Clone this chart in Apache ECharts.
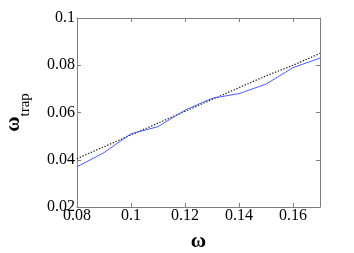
<!DOCTYPE html>
<html><head><meta charset="utf-8">
<script src="https://cdn.jsdelivr.net/npm/echarts@6/dist/echarts.min.js"></script>
<style>html,body{margin:0;padding:0;background:#fff}#c{width:354px;height:253px}</style>
</head><body><div id="c"></div>
<script>
const omega = [0.08, 0.09, 0.10, 0.11, 0.12, 0.13, 0.14, 0.15, 0.16, 0.17];
const trapMeasured = [0.037, 0.043, 0.051, 0.054, 0.061, 0.066, 0.068, 0.072, 0.079, 0.083];
const trapTheory = [0.0405, 0.0455, 0.0505, 0.0555, 0.0605, 0.0655, 0.0705, 0.0755, 0.080, 0.085];
const xTicks = [0.08, 0.1, 0.12, 0.14, 0.16];
const yTicks = [0.02, 0.04, 0.06, 0.08, 0.1];

const font = 'Liberation Serif';
const axisColor = '#7f7f7f';
const chart = echarts.init(document.getElementById('c'));
const fmt = v => String(Math.round(v * 1000) / 1000);
const baseX = {
  type: 'value', min: 0.08, max: 0.17, interval: 0.01,
  axisLine: {show: true, onZero: false, lineStyle: {color: axisColor, width: 1}},
  splitLine: {show: false}
};
const showX = v => xTicks.some(t => Math.abs(t - v) < 1e-9);
chart.setOption({
  animation: false,
  grid: {left: 77, right: 34, top: 18, bottom: 46, show: false, containLabel: false, outerBoundsMode: 'none'},
  xAxis: [
    Object.assign({}, baseX, {position: 'bottom',
      name: 'ω', nameLocation: 'middle', nameGap: 24,
      nameTextStyle: {color: '#000', fontFamily: font, fontSize: 21, fontWeight: 'bold'},
      axisLabel: {show: true, color: '#000', fontFamily: font, fontSize: 16, margin: 1,
        formatter: v => showX(v) ? fmt(v) : ''},
      axisTick: {show: true, inside: true, length: 4, lineStyle: {color: axisColor},
        customValues: xTicks}
    }),
    Object.assign({}, baseX, {position: 'top', axisLabel: {show: false},
      axisTick: {show: true, inside: true, length: 4, lineStyle: {color: axisColor},
        customValues: xTicks}})
  ],
  yAxis: [
    {type: 'value', min: 0.02, max: 0.1, interval: 0.02, position: 'left',
      name: '{a|ω}{b|trap}', nameLocation: 'middle', nameGap: 44, nameRotate: 90,
      nameTextStyle: {
        rich: {
          a: {fontFamily: font, fontSize: 21, fontWeight: 'bold', color: '#000', lineHeight: 22, verticalAlign: 'top'},
          b: {fontFamily: font, fontSize: 15, color: '#000', lineHeight: 30, verticalAlign: 'bottom'}
        }
      },
      axisLine: {show: true, onZero: false, lineStyle: {color: axisColor}},
      axisTick: {show: true, inside: true, length: 4, lineStyle: {color: axisColor}},
      axisLabel: {color: '#000', fontFamily: font, fontSize: 16, margin: 2, formatter: v => fmt(v)},
      splitLine: {show: false}},
    {type: 'value', min: 0.02, max: 0.1, interval: 0.02, position: 'right',
      axisLine: {show: true, onZero: false, lineStyle: {color: axisColor}},
      axisTick: {show: true, inside: true, length: 4, lineStyle: {color: axisColor}},
      axisLabel: {show: false}, splitLine: {show: false}}
  ],
  series: [
    {type: 'line', data: omega.map((x, i) => [x, trapTheory[i]]), showSymbol: false,
      lineStyle: {color: '#222', width: 1.3, type: [1.3, 1.7]}, z: 2},
    {type: 'line', data: omega.map((x, i) => [x, trapMeasured[i]]), showSymbol: false,
      lineStyle: {color: '#4b5cff', width: 1}, z: 3}
  ]
});
</script></body></html>
